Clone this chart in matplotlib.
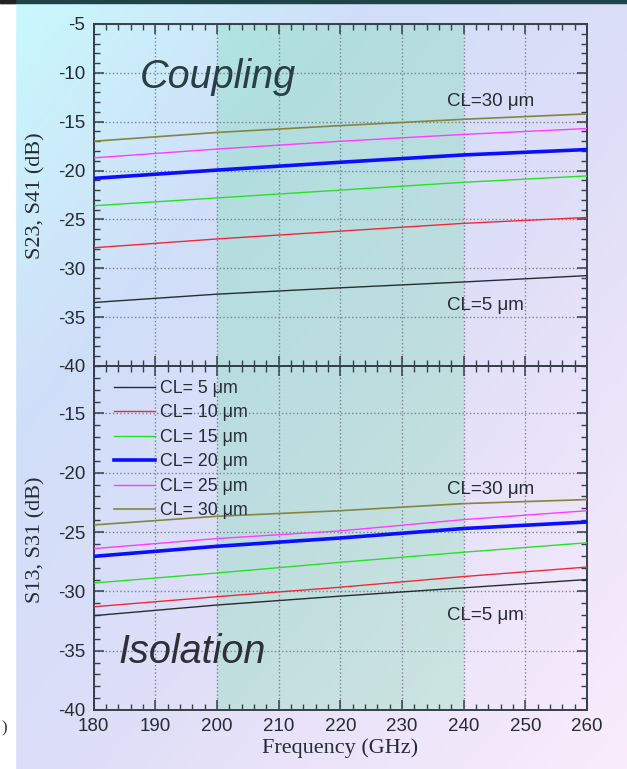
import numpy as np
import matplotlib.pyplot as plt
from matplotlib.ticker import MultipleLocator

plt.rcParams['axes.unicode_minus'] = False

# frequency points (GHz)
freq = [180, 200, 220, 240, 260]

cl_names = ['CL= 5 μm', 'CL= 10 μm', 'CL= 15 μm', 'CL= 20 μm', 'CL= 25 μm', 'CL= 30 μm']
cl_colors = ['#262e30', '#ee2a38', '#28e028', '#0a10ff', '#ff3cff', '#858540']
cl_widths = [1.0, 1.0, 1.0, 2.6, 1.0, 1.2]

# coupling S23, S41 (dB)
coup_5 = [-33.5, -32.65, -32.0, -31.4, -30.75]
coup_10 = [-27.9, -27.0, -26.2, -25.4, -24.8]
coup_15 = [-23.6, -22.8, -22.0, -21.2, -20.55]
coup_20 = [-20.8, -19.95, -19.15, -18.4, -17.85]
coup_25 = [-18.7, -17.8, -17.0, -16.3, -15.7]
coup_30 = [-17.0, -16.1, -15.4, -14.75, -14.2]

# isolation S13, S31 (dB)
iso_5 = [-32.05, -31.15, -30.4, -29.7, -29.0]
iso_10 = [-31.3, -30.45, -29.65, -28.75, -27.95]
iso_15 = [-29.3, -28.45, -27.55, -26.7, -25.9]
iso_20 = [-27.05, -26.2, -25.5, -24.7, -24.15]
iso_25 = [-26.4, -25.55, -24.9, -23.95, -23.2]
iso_30 = [-24.4, -23.67, -23.2, -22.6, -22.26]

coupling = [coup_5, coup_10, coup_15, coup_20, coup_25, coup_30]
isolation = [iso_5, iso_10, iso_15, iso_20, iso_25, iso_30]

band = (200, 240)

W, H = 627, 769
fig = plt.figure(figsize=(W / 100, H / 100), dpi=100)

# background gradient (cyan top-left -> lavender -> pink bottom-right)
bg = fig.add_axes([0, 0, 1, 1], zorder=-10)
xx, yy = np.meshgrid(np.linspace(0, 1, W), np.linspace(0, 1, H))
t = 0.5 * (xx + yy)
stops = [0.0, 0.3, 0.55, 1.0]
rgb = np.dstack([
    np.interp(t, stops, [200, 208, 222, 250]),
    np.interp(t, stops, [250, 222, 222, 236]),
    np.interp(t, stops, [253, 248, 248, 252]),
]) / 255.0
bg.imshow(rgb, extent=[0, W, H, 0], aspect='auto')
bg.add_patch(plt.Rectangle((0, 0), 15, H, color='white'))
bg.add_patch(plt.Rectangle((0, 0), W, 2.5, color='#1f4448'))
bg.add_patch(plt.Rectangle((0, 0), 15, 2.5, color='#222222'))
bg.set_xlim(0, W)
bg.set_ylim(H, 0)
bg.axis('off')

left, right = 93.5 / W, 587 / W
top_y, mid_y, bot_y = 24, 366, 710
ax1 = fig.add_axes([left, 1 - mid_y / H, right - left, (mid_y - top_y) / H])
ax2 = fig.add_axes([left, 1 - bot_y / H, right - left, (bot_y - mid_y) / H])

spine_c = '#38404a'
text_c = '#262c34'
for ax, data in ((ax1, coupling), (ax2, isolation)):
    ax.set_facecolor('none')
    ax.axvspan(band[0], band[1], color=(0.0, 0.85, 0.3), alpha=0.14, lw=0, zorder=1)
    for vals, name, c, lw in zip(data, cl_names, cl_colors, cl_widths):
        ax.plot(freq, vals, color=c, lw=lw, label=name, zorder=3)
    ax.set_xlim(180, 260)
    ax.xaxis.set_major_locator(MultipleLocator(10))
    ax.xaxis.set_minor_locator(MultipleLocator(2))
    ax.yaxis.set_major_locator(MultipleLocator(5))
    ax.yaxis.set_minor_locator(MultipleLocator(1))
    ax.tick_params(which='both', direction='in', top=True, right=True,
                   color=spine_c, labelcolor=text_c, labelsize=13.5, pad=6)
    ax.tick_params(which='major', length=7, width=1.1)
    ax.tick_params(which='minor', length=4, width=1.0)
    ax.grid(True, which='major', ls=':', color='#7c8490', lw=1.0)
    for s in ax.spines.values():
        s.set_color(spine_c)
        s.set_linewidth(1.4)
    for lab in ax.get_xticklabels() + ax.get_yticklabels():
        lab.set_family('Liberation Sans')

ax1.set_ylim(-40, -5)
ax2.set_ylim(-40, -11)
ax1.tick_params(labelbottom=False)

# panel annotations
ax1.text(187.5, -11.55, 'Coupling', fontsize=28.5, style='italic',
         family='Liberation Sans', color='#2a3e46')
ax2.text(184.0, -36.0, 'Isolation', fontsize=28.5, style='italic',
         family='Liberation Sans', color='#2e3038')
for ax, y30, y5 in ((ax1, -13.4, -34.3), (ax2, -21.8, -32.4)):
    ax.text(237.3, y30, 'CL=30 μm', fontsize=13.5, family='Liberation Sans', color=text_c)
    ax.text(237.3, y5, 'CL=5 μm', fontsize=13.5, family='Liberation Sans', color=text_c)

leg = ax2.legend(loc='upper left', bbox_to_anchor=((114 - 93.5) / 493.5, 1 - 14 / 344),
                 frameon=False, borderpad=0, borderaxespad=0, handlelength=2.3,
                 handletextpad=0.3, labelspacing=0.42,
                 prop={'family': 'Liberation Sans', 'size': 12.8})
for txt in leg.get_texts():
    txt.set_color(text_c)

fig.text(36 / W, 1 - 196 / H, 'S23, S41 (dB)', rotation=90, ha='center', va='center',
         fontsize=16, family='Liberation Serif', color=text_c)
fig.text(36 / W, 1 - 540 / H, 'S13, S31 (dB)', rotation=90, ha='center', va='center',
         fontsize=16, family='Liberation Serif', color=text_c)
fig.text(340 / W, 1 - 748 / H, 'Frequency (GHz)', ha='center', va='center',
         fontsize=16, family='Liberation Serif', color=text_c)
fig.text(1 / W, 1 - 728 / H, ')', ha='left', va='center', fontsize=12,
         family='Liberation Serif', color='#333333')

fig.savefig('out.png', dpi=100)
